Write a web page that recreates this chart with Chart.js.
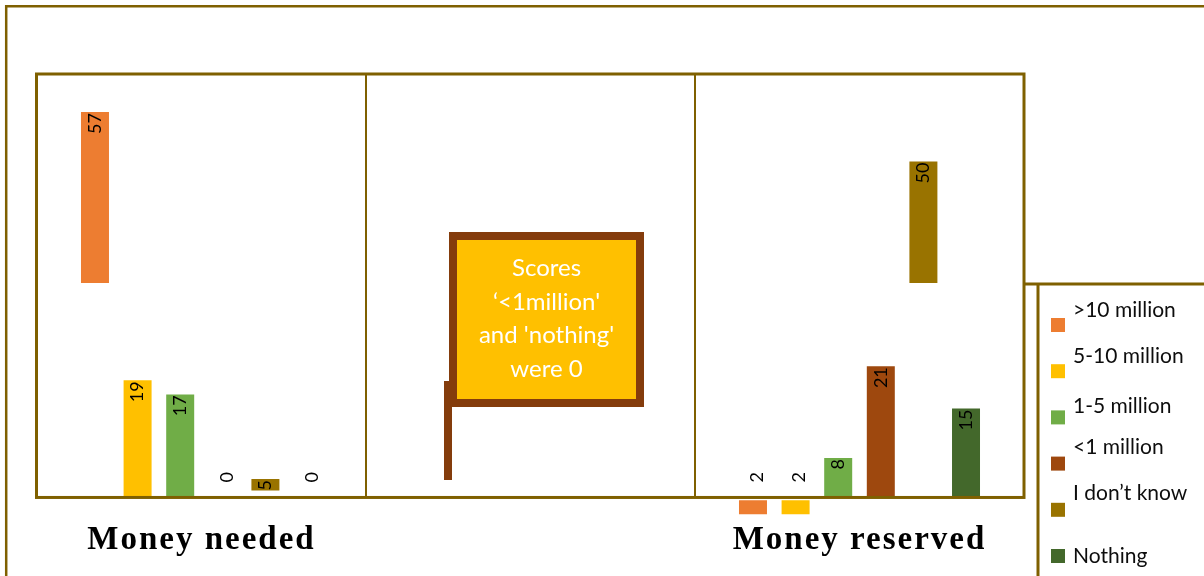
<!DOCTYPE html>
<html>
<head>
<meta charset="utf-8">
<title>Money needed and money reserved</title>
<script src="https://cdn.jsdelivr.net/npm/chart.js@4.4.1/dist/chart.umd.min.js"></script>
<style>
  html, body { margin: 0; padding: 0; background: #fff; }
  canvas { display: block; }
</style>
</head>
<body>
<canvas id="moneyChart" width="1204" height="576"></canvas>
<script>
// x categories (the middle slot stays empty, the note sits there)
const categories = ['Money needed', '', 'Money reserved'];
const seriesNames = ['>10 million', '5-10 million', '1-5 million', '<1 million', 'I don\u2019t know', 'Nothing'];
const seriesColors = ['#ED7D31', '#FFC000', '#70AD47', '#9E480E', '#997300', '#43682B'];

// scores per answer
const moneyNeeded = [57, 19, 17, 0, 5, 0];
const moneyReserved = [2, 2, 8, 21, 50, 15];

// lower end of each floating bar
const neededFloor = [32.8, 2.4, 2.4, 0, 3.4, 0];
const reservedFloor = [0, 0, 2.4, 2.4, 32.8, 2.4];

const noteLines = ['Scores', '\u2018<1million\'', 'and \'nothing\'', 'were 0'];

const frameColor = '#7F6000';
const frameValue = 2.4; // bottom line of the plot box sits here on the y scale

const datasets = seriesNames.map((name, i) => ({
  label: name,
  data: [
    [neededFloor[i], moneyNeeded[i]],
    null,
    [reservedFloor[i], moneyReserved[i]]
  ],
  backgroundColor: seriesColors[i],
  borderWidth: 0
}));

const boxPlugin = {
  id: 'boxes',
  beforeDraw(chart) {
    const ctx = chart.ctx;
    ctx.save();
    ctx.fillStyle = '#fff';
    ctx.fillRect(0, 0, chart.width, chart.height);
    ctx.strokeStyle = frameColor;
    // outer border
    ctx.lineWidth = 2.5;
    ctx.beginPath();
    ctx.moveTo(6.2, chart.height);
    ctx.lineTo(6.2, 6.2);
    ctx.lineTo(chart.width, 6.2);
    ctx.stroke();
    // legend box
    ctx.lineWidth = 3;
    ctx.beginPath();
    ctx.moveTo(chart.chartArea.right, 284);
    ctx.lineTo(chart.width, 284);
    ctx.moveTo(1038, 284);
    ctx.lineTo(1038, chart.height);
    ctx.stroke();
    ctx.restore();
    // spaced-out category names
    ctx.letterSpacing = '2px';
  },
  beforeDatasetsDraw(chart) {
    chart.ctx.letterSpacing = '0px';
  },
  afterDatasetsDraw(chart) {
    const ctx = chart.ctx;
    const x = chart.scales.x;
    const y = chart.scales.y;
    const area = chart.chartArea;
    const frameY = y.getPixelForValue(frameValue);

    // plot box and category separators
    ctx.save();
    ctx.strokeStyle = frameColor;
    ctx.lineWidth = 3;
    ctx.strokeRect(area.left - 0.5, area.top, area.right - area.left + 0.5, frameY - area.top);
    ctx.lineWidth = 2;
    ctx.beginPath();
    for (let i = 1; i < categories.length; i++) {
      const sx = (x.getPixelForValue(i - 1) + x.getPixelForValue(i)) / 2;
      ctx.moveTo(sx, area.top);
      ctx.lineTo(sx, frameY);
    }
    ctx.stroke();
    ctx.restore();

    // value labels, reading bottom to top
    ctx.save();
    ctx.fillStyle = '#000';
    ctx.font = '18px Lato';
    ctx.textBaseline = 'middle';
    chart.data.datasets.forEach((ds, di) => {
      const meta = chart.getDatasetMeta(di);
      meta.data.forEach((bar, j) => {
        const raw = ds.data[j];
        if (!raw) return;
        const top = Math.min(bar.y, bar.base);
        ctx.save();
        if (top < frameY - 4) {
          ctx.translate(bar.x, top + 1);
          ctx.textAlign = 'right';
        } else {
          ctx.translate(bar.x + 4, frameY - 15);
          ctx.textAlign = 'left';
        }
        ctx.rotate(-Math.PI / 2);
        ctx.fillText(String(raw[1]), 0, 0);
        ctx.restore();
      });
    });
    ctx.restore();

    // note on a little flag
    ctx.save();
    ctx.fillStyle = '#843C0C';
    ctx.fillRect(444, 381, 8, 99);
    ctx.fillStyle = '#FFC000';
    ctx.fillRect(453, 236, 187, 167);
    ctx.strokeStyle = '#843C0C';
    ctx.lineWidth = 8;
    ctx.strokeRect(453, 236, 187, 167);
    ctx.fillStyle = '#fff';
    ctx.font = '24px Lato';
    ctx.textAlign = 'center';
    ctx.textBaseline = 'alphabetic';
    noteLines.forEach((line, i) => {
      ctx.fillText(line, 546.5, 276 + i * 33.7);
    });
    ctx.restore();

    // legend: label sits a little above its swatch
    const textShift = [-15, -15, -11, -17, -17, 0];
    ctx.save();
    ctx.font = '21px Lato';
    ctx.textAlign = 'left';
    ctx.textBaseline = 'alphabetic';
    chart.data.datasets.forEach((ds, i) => {
      const sy = 318 + i * 46.2;
      ctx.fillStyle = ds.backgroundColor;
      ctx.fillRect(1051, sy, 14, 14);
      ctx.fillStyle = '#0D0D0D';
      ctx.fillText(ds.label, 1073, sy + 14 + textShift[i]);
    });
    ctx.restore();
  }
};

new Chart(document.getElementById('moneyChart'), {
  type: 'bar',
  data: {
    labels: categories,
    datasets: datasets
  },
  options: {
    responsive: false,
    animation: false,
    categoryPercentage: 0.777,
    barPercentage: 0.657,
    layout: {
      padding: { left: 37, right: 180, top: 74, bottom: 10 }
    },
    plugins: {
      legend: { display: false },
      tooltip: { enabled: false }
    },
    scales: {
      x: {
        grid: { display: false, drawTicks: false },
        border: { display: false },
        ticks: {
          color: '#000',
          padding: 6,
          maxRotation: 0,
          autoSkip: false,
          font: { family: 'Liberation Serif', size: 33, weight: 'bold' }
        }
      },
      y: {
        display: false,
        min: 0,
        max: 62.4
      }
    }
  },
  plugins: [boxPlugin]
});
</script>
</body>
</html>
